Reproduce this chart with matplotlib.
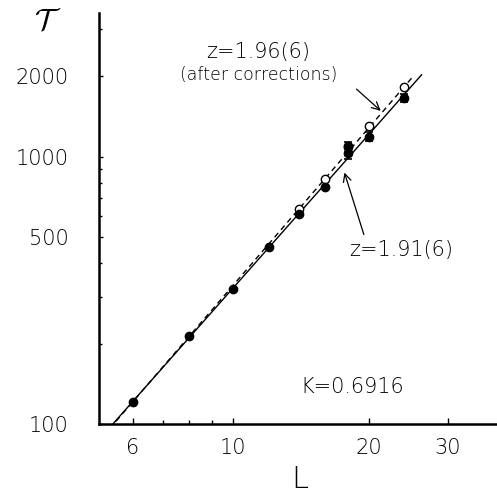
import matplotlib
matplotlib.use("Agg")
import matplotlib.pyplot as plt
from matplotlib.ticker import FixedLocator, NullFormatter

# data
L_filled = [6, 8, 10, 12, 14, 16, 18, 18, 20, 24]
tau_filled = [121, 214, 321, 460, 612, 773, 1030, 1090, 1190, 1660]
err_filled = [0, 0, 0, 0, 0, 0, 45, 45, 45, 60]

L_open = [14, 16, 18, 20, 24]
tau_open = [640, 827, 1095, 1305, 1827]

# power-law fits tau = A * L**z
z_plain, A_plain = 1.91, 3.96
z_corr, A_corr = 1.96, 3.61
L_fit_plain = [5.0, 26.2]
L_fit_corr = [5.0, 25.1]

x_ticks = [6, 10, 20, 30]
y_ticks = [100, 500, 1000, 2000]

plt.rcParams['mathtext.fontset'] = 'cm'
font = {'family': 'DejaVu Sans', 'weight': 'light'}

fig = plt.figure(figsize=(4.97, 4.95), dpi=100)
ax = fig.add_axes([0.199, 0.1434, 0.801, 0.8303])
ax.set_xscale('log')
ax.set_yscale('log')
ax.set_xlim(5.05, 38.5)
ax.set_ylim(100, 3450)

ax.plot(L_fit_plain, [A_plain * l ** z_plain for l in L_fit_plain], color='black', lw=1.0)
ax.plot(L_fit_corr, [A_corr * l ** z_corr for l in L_fit_corr], color='black', lw=1.0,
        ls=(0, (4, 3)))

ax.errorbar(L_filled, tau_filled, yerr=err_filled, fmt='o', color='black', ms=6,
            elinewidth=1.2, capsize=3, capthick=1.2, zorder=4)
ax.plot(L_open, tau_open, 'o', mfc='white', mec='black', ms=6, mew=1.0, zorder=3)

for side in ['top', 'right']:
    ax.spines[side].set_visible(False)
for side in ['left', 'bottom']:
    ax.spines[side].set_linewidth(1.8)

ax.xaxis.set_major_locator(FixedLocator(x_ticks))
ax.yaxis.set_major_locator(FixedLocator(y_ticks))
ax.set_xticklabels([str(t) for t in x_ticks], fontsize=15, **font)
ax.set_yticklabels([str(t) for t in y_ticks], fontsize=15, **font)
ax.xaxis.set_minor_formatter(NullFormatter())
ax.yaxis.set_minor_formatter(NullFormatter())
ax.tick_params(which='both', direction='in', width=1.0)
ax.tick_params(axis='x', which='major', length=4, pad=10)
ax.tick_params(axis='x', which='minor', length=3, pad=10)
ax.tick_params(axis='y', which='major', length=3, pad=22)
ax.tick_params(axis='y', which='minor', length=2, pad=22)

fig.text(0.095, 0.958, r'$\mathcal{T}$', fontsize=22, ha='center', va='center')
fig.text(0.604, 0.032, 'L', fontsize=22, ha='center', va='center', **font)

ax.annotate('', xy=(21.5, 1462), xytext=(18.6, 1820),
            arrowprops=dict(arrowstyle='->', color='black', lw=0.9, mutation_scale=14))
ax.annotate('', xy=(17.6, 893), xytext=(19.6, 500),
            arrowprops=dict(arrowstyle='->', color='black', lw=0.9, mutation_scale=14))

fig.text(0.52, 0.895, 'z=1.96(6)', fontsize=15, ha='center', va='center', **font)
fig.text(0.52, 0.848, '(after corrections)', fontsize=12.5, ha='center', va='center', **font)
fig.text(0.807, 0.495, 'z=1.91(6)', fontsize=15, ha='center', va='center', **font)
fig.text(0.709, 0.218, 'K=0.6916', fontsize=15, ha='center', va='center', **font)

fig.savefig('out.png', dpi=100)
